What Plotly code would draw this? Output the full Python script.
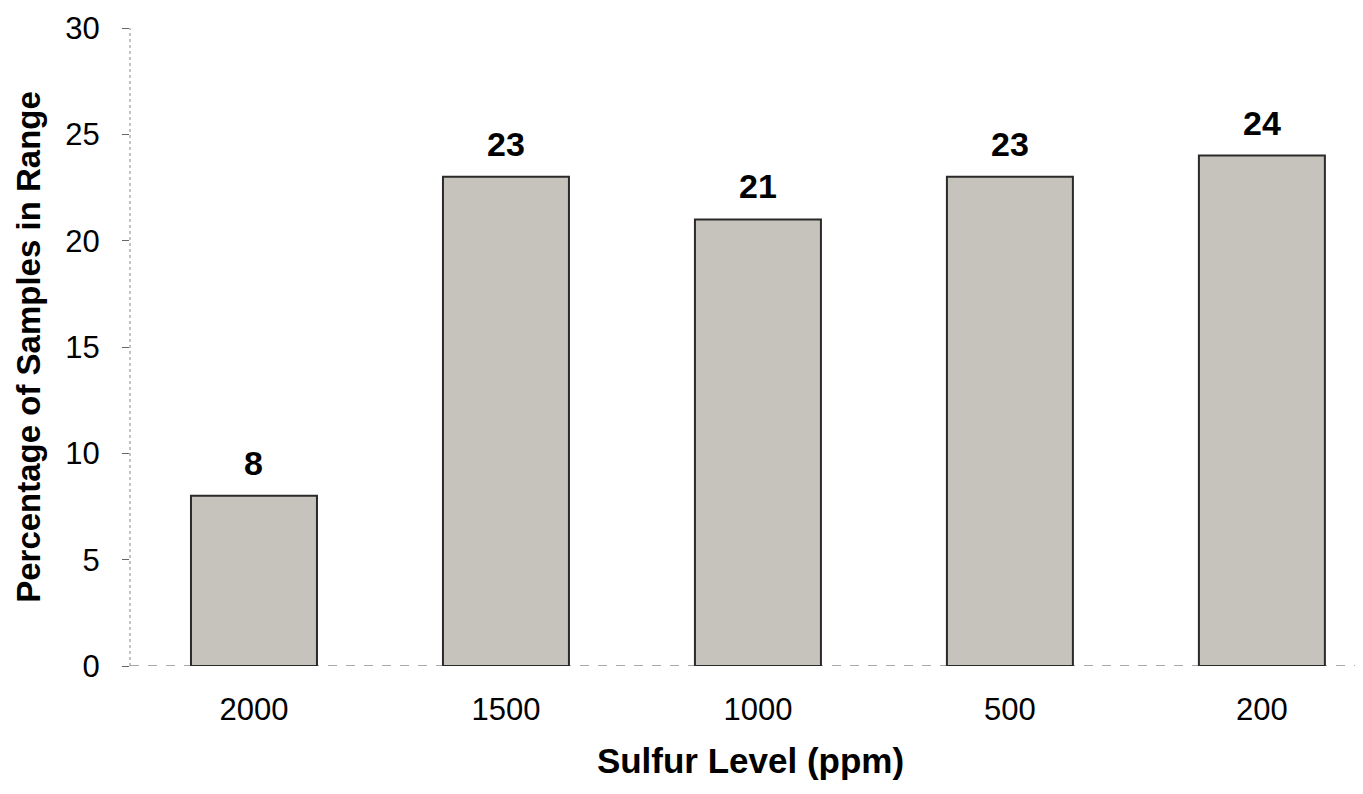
import plotly.graph_objects as go

categories = ["2000", "1500", "1000", "500", "200"]
values = [8, 23, 21, 23, 24]
labels = ["8", "23", "21", "23", "24"]
y_ticks = [0, 5, 10, 15, 20, 25, 30]

FONT = "Liberation Sans, Arial"

fig = go.Figure()
fig.add_trace(go.Bar(
    x=categories, y=values,
    marker=dict(color="#c6c3bd", line=dict(color="#2a2a2a", width=2)),
    width=0.5,
))
for i, (v, t) in enumerate(zip(values, labels)):
    fig.add_annotation(
        x=i, y=v, xref="x", yref="y", text=f"<b>{t}</b>", showarrow=False,
        yanchor="bottom", yshift=12,
        font=dict(family=FONT, size=34, color="black"),
    )
# dashed baseline and dotted value axis like the scanned original
fig.add_shape(type="line", xref="paper", yref="y", x0=0, x1=1, y0=0, y1=0,
              line=dict(color="#555", width=1.2, dash="dash"), layer="below")
fig.add_shape(type="line", xref="paper", yref="paper", x0=0, x1=0, y0=0, y1=1,
              line=dict(color="#888", width=1, dash="dot"), layer="below")

fig.update_layout(
    width=1363, height=794,
    margin=dict(l=122, r=0, t=20, b=136),
    paper_bgcolor="white", plot_bgcolor="white",
    showlegend=False,
    font=dict(family=FONT, color="black"),
)
fig.update_xaxes(
    type="category", range=[-0.492, 4.433],
    showline=False, showgrid=False, zeroline=False, ticks="",
    tickfont=dict(size=31), ticklabelstandoff=22,
    title=dict(text="<b>Sulfur Level (ppm)</b>", font=dict(size=35), standoff=22),
)
fig.update_yaxes(
    range=[0, 30], tickvals=y_ticks, showgrid=False, zeroline=False,
    showline=False,
    ticks="outside", ticklen=7, tickcolor="#666", tickwidth=1,
    tickfont=dict(size=31), ticklabelstandoff=16,
    title=dict(text="<b>Percentage of Samples in Range</b>", font=dict(size=33), standoff=14),
)
fig.write_html("out.html")
